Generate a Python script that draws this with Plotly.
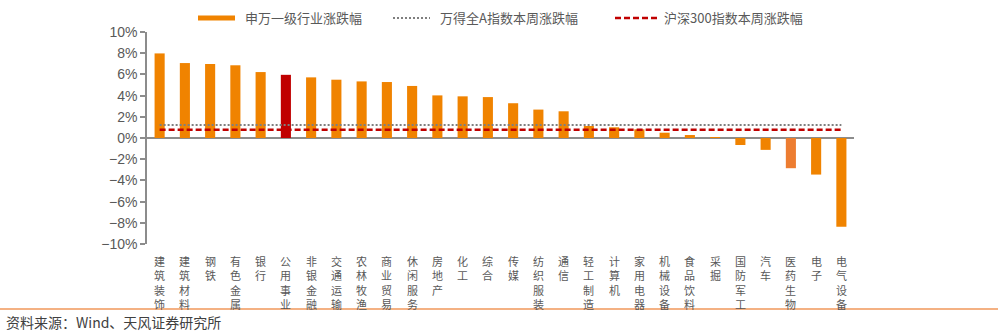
import plotly.graph_objects as go

# ---------------- data ----------------
categories = ["建筑装饰", "建筑材料", "钢铁", "有色金属", "银行", "公用事业", "非银金融",
              "交通运输", "农林牧渔", "商业贸易", "休闲服务", "房地产", "化工", "综合",
              "传媒", "纺织服装", "通信", "轻工制造", "计算机", "家用电器", "机械设备",
              "食品饮料", "采掘", "国防军工", "汽车", "医药生物", "电子", "电气设备"]
sw_change = [7.98, 7.07, 6.98, 6.86, 6.22, 5.96, 5.72, 5.50, 5.34, 5.28, 4.91, 4.02,
             3.93, 3.86, 3.28, 2.68, 2.52, 1.13, 1.01, 0.82, 0.50, 0.28, 0.02,
             -0.66, -1.12, -2.85, -3.45, -8.38]
wind_a_change = 1.23
hs300_change = 0.79
series_names = ["申万一级行业涨跌幅", "万得全A指数本周涨跌幅", "沪深300指数本周涨跌幅"]
y_tick_vals = [-10, -8, -6, -4, -2, 0, 2, 4, 6, 8, 10]
y_tick_text = ["−10%", "−8%", "−6%", "−4%", "−2%", "0%", "2%", "4%", "6%", "8%", "10%"]
source_text = "资料来源：Wind、天风证券研究所"

# ---------------- styles ----------------
ORANGE = "#F08300"
RED = "#C00000"
LIGHT_ORANGE = "#ED7D31"
GRAY_DOT = "#7F7F7F"
AXIS = "#8C8C8C"
TEXT = "#595959"
CJK = "Noto Sans CJK SC"
LAT = "Liberation Sans, Arial"
highlight = {"公用事业": RED, "医药生物": LIGHT_ORANGE}
bar_colors = [highlight.get(c, ORANGE) for c in categories]

W, H = 998, 333
ML, MR, MT, MB = 147, 144, 32, 89
PW, PH = W - ML - MR, H - MT - MB


def px_x(px):
    return (px - ML) / PW


def px_y(py):
    return (H - MB - py) / PH


fig = go.Figure()
fig.add_trace(go.Bar(x=categories, y=sw_change, marker=dict(color=bar_colors, line=dict(width=0)),
                     width=0.4, name=series_names[0], showlegend=False))
fig.add_trace(go.Scatter(x=categories, y=[wind_a_change] * len(categories), mode="lines",
                         line=dict(color=GRAY_DOT, width=2, dash="2px,2px"),
                         name=series_names[1], showlegend=False))
fig.add_trace(go.Scatter(x=categories, y=[hs300_change] * len(categories), mode="lines",
                         line=dict(color=RED, width=2.5, dash="6px,3px"),
                         name=series_names[2], showlegend=False))

annotations = []
shapes = []
# vertical category labels (one character per line)
for cat in categories:
    annotations.append(dict(x=cat, xref="x", y=0, yref="paper", yanchor="top",
                            xanchor="center", yshift=-7.3, text="<br>".join(cat),
                            showarrow=False, font=dict(family=CJK, size=11, color=TEXT)))

# manual legend
leg_y = 18
shapes.append(dict(type="rect", xref="paper", yref="paper", x0=px_x(198), x1=px_x(235),
                   y0=px_y(leg_y + 2.5), y1=px_y(leg_y - 2.5), fillcolor=ORANGE, line=dict(width=0)))
shapes.append(dict(type="line", xref="paper", yref="paper", x0=px_x(393), x1=px_x(430),
                   y0=px_y(leg_y), y1=px_y(leg_y), line=dict(color=GRAY_DOT, width=2, dash="2px,2px")))
shapes.append(dict(type="line", xref="paper", yref="paper", x0=px_x(615), x1=px_x(660),
                   y0=px_y(leg_y), y1=px_y(leg_y), line=dict(color=RED, width=2.5, dash="6px,3px")))
for name, tx in zip(series_names, [243, 438, 662]):
    annotations.append(dict(x=px_x(tx), xref="paper", y=px_y(leg_y), yref="paper",
                            xanchor="left", yanchor="middle", text=name, showarrow=False,
                            font=dict(family=CJK, size=13, color=TEXT)))

# bottom separator and source
shapes.append(dict(type="line", xref="paper", yref="paper", x0=px_x(0), x1=px_x(998),
                   y0=px_y(309), y1=px_y(309), line=dict(color="#F4B183", width=2)))
annotations.append(dict(x=px_x(4), xref="paper", y=px_y(322), yref="paper",
                        xanchor="left", yanchor="middle", text=source_text, showarrow=False,
                        font=dict(family=CJK, size=14, color="#404040")))

fig.update_layout(
    width=W, height=H,
    margin=dict(l=ML, r=MR, t=MT, b=MB, autoexpand=False),
    paper_bgcolor="white", plot_bgcolor="white",
    showlegend=False,
    xaxis=dict(type="category", range=[-0.5, len(categories) - 0.5], showticklabels=False,
               showline=False, showgrid=False, zeroline=False, ticks=""),
    yaxis=dict(range=[-10, 10], tickvals=y_tick_vals, ticktext=y_tick_text, showgrid=False,
               showline=True, linecolor=AXIS, linewidth=1.5, ticks="outside", ticklen=5,
               tickwidth=1.5, tickcolor=AXIS, zeroline=True, zerolinecolor=AXIS,
               zerolinewidth=1.5, tickfont=dict(family=LAT, size=14, color=TEXT)),
    annotations=annotations,
    shapes=shapes,
)

fig.write_html("out.html")
